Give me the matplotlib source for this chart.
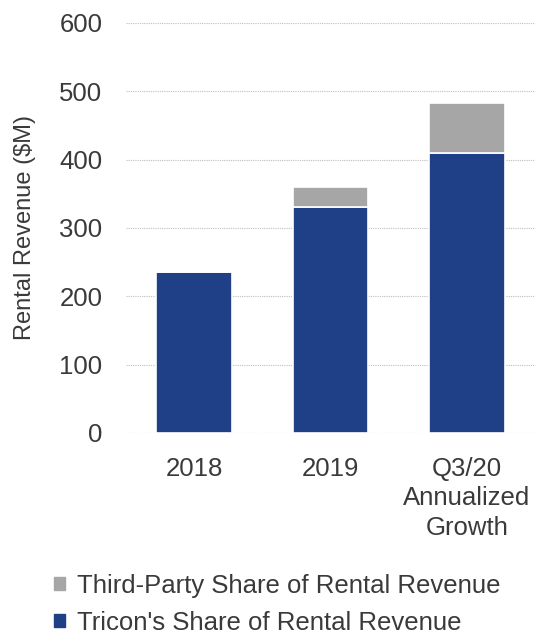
import matplotlib.pyplot as plt
from matplotlib.patches import Patch

plt.rcParams['font.family'] = ['Liberation Sans', 'DejaVu Sans']

# rental revenue, $M
years = ['2018', '2019', 'Q3/20\nAnnualized\nGrowth']
tricon_share = [235, 330, 410]
third_party = [0, 30, 73]

blue = '#1F3F86'
grey = '#A6A6A6'
txt = '#3A3A3A'

fig = plt.figure(figsize=(5.35, 6.36), dpi=100)
ax = fig.add_axes([0.2355, 0.3192, 0.7645, 0.6447])

x = range(len(years))
ax.bar(x, tricon_share, width=0.555, color=blue, edgecolor='white', linewidth=1.2, zorder=3)
ax.bar(x, third_party, width=0.555, bottom=tricon_share, color=grey,
       edgecolor='white', linewidth=1.2, zorder=3)

ax.set_xlim(-0.5, 2.5)
ax.set_ylim(0, 600)
ax.set_yticks(range(0, 601, 100))
ax.set_xticks(list(x))
ax.set_xticklabels(years, linespacing=1.3)
ax.yaxis.grid(True, linestyle=(0, (1, 1)), color='#BFBFBF', linewidth=0.8, zorder=0)

for s in ax.spines.values():
    s.set_visible(False)
ax.tick_params(axis='both', length=0, labelsize=18.5, labelcolor=txt)
ax.tick_params(axis='y', pad=17)
ax.tick_params(axis='x', pad=17)
ax.set_ylabel('Rental Revenue ($M)', fontsize=17, color=txt)
ax.yaxis.set_label_coords(-0.221, 0.5)

handles = [Patch(color=grey), Patch(color=blue)]
labels = ['Third-Party Share of Rental Revenue', "Tricon's Share of Rental Revenue"]
fig.legend(handles, labels, loc='upper left', bbox_to_anchor=(0.082, 0.114),
           frameon=False, fontsize=18.5, labelcolor=txt, handlelength=0.42,
           handleheight=0.42, handletextpad=0.45, labelspacing=0.5, borderaxespad=0)

fig.savefig('out.png', dpi=100)
